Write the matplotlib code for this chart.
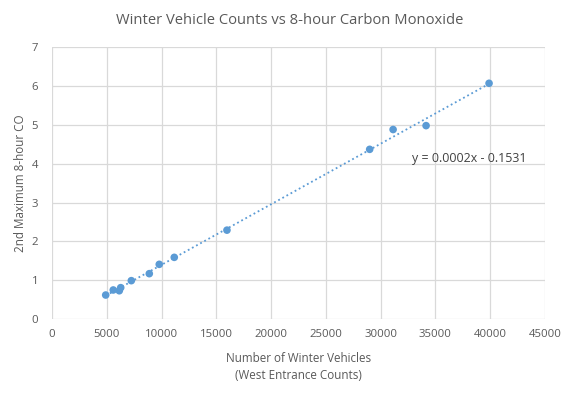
import matplotlib
matplotlib.use("Agg")
import matplotlib.pyplot as plt
import numpy as np

vehicles = [4900, 5590, 6140, 6270, 7240, 8880, 9790, 11160, 15970, 29000, 31140, 34150, 39900]
co = [0.62, 0.75, 0.73, 0.81, 0.99, 1.17, 1.41, 1.59, 2.29, 4.37, 4.88, 4.98, 6.07]

title = "Winter Vehicle Counts vs 8-hour Carbon Monoxide"
xlabel = "Number of Winter Vehicles\n(West Entrance Counts)"
ylabel = "2nd Maximum 8-hour CO"
eq_text = "y = 0.0002x - 0.1531"

plt.rcParams['font.family'] = ['Open Sans', 'DejaVu Sans']
gray = "#595959"
blue = "#5B9BD5"

fig = plt.figure(figsize=(5.73, 3.93), dpi=100)
ax = fig.add_axes([0.0908, 0.188, 0.951 - 0.0908, 0.880 - 0.188])

x = np.array(vehicles, dtype=float)
y = np.array(co, dtype=float)
m, b = np.polyfit(x, y, 1)
xs = np.array([x.min(), x.max()])
ax.plot(xs, m * xs + b, linestyle=(0, (1, 1.6)), color=blue, linewidth=1.3, zorder=2)
ax.scatter(x, y, s=30, color=blue, zorder=3, edgecolors='none')

ax.set_xlim(0, 45000)
ax.set_ylim(0, 7)
ax.set_xticks(np.arange(0, 45001, 5000))
ax.set_yticks(np.arange(0, 8, 1))
ax.grid(True, color="#d9d9d9", linewidth=0.9)
ax.set_axisbelow(True)
for s in ax.spines.values():
    s.set_visible(False)
ax.tick_params(axis='x', length=0, labelsize=8.2, colors=gray, pad=7)
ax.tick_params(axis='y', length=0, labelsize=8.2, colors=gray, pad=10)

ax.set_xlabel(xlabel, fontsize=8.4, color=gray, labelpad=9, linespacing=1.4)
ax.set_ylabel(ylabel, fontsize=8.4, color=gray)
ax.yaxis.set_label_coords(-0.05, 0.5)
fig.text(0.505, 0.947, title, ha='center', va='center', fontsize=10.6, color=gray)
ax.text(43340, 4.14, eq_text, ha='right', va='center', fontsize=8.9, color="#404040")

fig.savefig("out.png", dpi=100, facecolor='white')
